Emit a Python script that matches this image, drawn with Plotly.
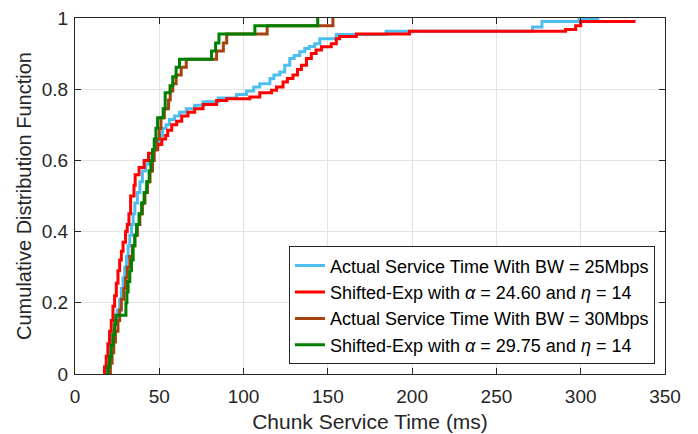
import plotly.graph_objects as go

# ---- data ----
blue_x = [18, 19, 20, 21, 22, 23.5, 25, 26.5, 27.5, 28.5, 29.5, 30.5, 31.5, 32.5, 33.5, 34.5,
          35.5, 37, 38.5, 40, 42, 44, 46, 48, 50, 52, 54, 56, 59, 62, 66, 71, 76, 85, 95.8,
          101.7, 106, 109.6, 115.6, 118, 121.5, 124.4, 127.4, 130, 133.3, 136.3, 139, 142.2,
          145.2, 155, 184.6, 271.4, 277, 299, 311]
blue_y = [0, 0.03, 0.06, 0.09, 0.12, 0.15, 0.18, 0.21, 0.24, 0.27, 0.30, 0.33, 0.36, 0.39, 0.42,
          0.45, 0.48, 0.51, 0.54, 0.57, 0.59, 0.61, 0.63, 0.65, 0.67, 0.69, 0.70, 0.715, 0.725,
          0.735, 0.745, 0.755, 0.765, 0.775, 0.785, 0.795, 0.806, 0.815, 0.83, 0.84, 0.848,
          0.867, 0.886, 0.895, 0.905, 0.914, 0.92, 0.928, 0.942, 0.954, 0.963, 0.975, 0.99,
          0.997, 0.997]

red_x = [17, 17.5, 18.5, 19.5, 20.5, 21.5, 22.5, 23.5, 24.5, 25.5, 26.5, 27.5, 28.5, 30, 31, 32,
         33, 35, 35.7, 38, 41, 43.6, 46.5, 49, 51.5, 53.8, 55, 57.4, 60.3, 63.3, 67, 71, 76, 84,
         90, 103.7, 109.6, 116.6, 119.5, 123.4, 126, 129.3, 132, 134.3, 137.3, 140.2, 143,
         146.2, 152, 155, 157, 166.9, 198.4, 291, 297, 300, 332.5]
red_y = [0, 0.02, 0.05, 0.085, 0.12, 0.15, 0.19, 0.22, 0.255, 0.29, 0.32, 0.345, 0.37, 0.40,
         0.42, 0.45, 0.50, 0.53, 0.56, 0.58, 0.60, 0.62, 0.63, 0.645, 0.66, 0.67, 0.685, 0.70,
         0.71, 0.725, 0.735, 0.745, 0.757, 0.768, 0.773, 0.778, 0.79, 0.797, 0.806, 0.82,
         0.83, 0.84, 0.855, 0.867, 0.886, 0.90, 0.91, 0.919, 0.928, 0.942, 0.948, 0.955,
         0.963, 0.968, 0.978, 0.99, 0.99]

brown_x = [20, 21, 22, 23, 24, 25.5, 26.5, 27.5, 29, 30, 31, 32.5, 34, 35.5, 37, 38.5, 40, 41.5,
           43, 44.5, 46, 47, 48.5, 50, 51, 53, 55.5, 56.5, 58, 60, 63, 66, 84, 88, 90, 114, 153]
brown_y = [0, 0.03, 0.06, 0.09, 0.12, 0.15, 0.18, 0.21, 0.24, 0.27, 0.30, 0.33, 0.36, 0.39,
           0.42, 0.45, 0.48, 0.51, 0.54, 0.57, 0.60, 0.63, 0.66, 0.69, 0.72, 0.745, 0.77,
           0.795, 0.815, 0.84, 0.862, 0.884, 0.907, 0.93, 0.955, 0.978, 1.0]

green_x = [18.5, 19.5, 20.5, 21.5, 22.5, 23.5, 24.2, 30.2, 30.8, 31.5, 32.5, 33.5, 34.5, 35.5,
           36.5, 38, 39.5, 41, 42.5, 44, 45, 46, 47, 48, 49, 52.3, 53.5, 56.4, 58, 60, 62,
           81, 83.4, 85.4, 106.7, 144]
green_y = [0, 0.02, 0.05, 0.08, 0.11, 0.14, 0.165, 0.20, 0.23, 0.26, 0.29, 0.32, 0.36, 0.39,
           0.42, 0.45, 0.48, 0.51, 0.54, 0.57, 0.60, 0.63, 0.66, 0.69, 0.72, 0.745, 0.79,
           0.81, 0.835, 0.862, 0.884, 0.907, 0.93, 0.955, 0.978, 1.0]

names = [
    "Actual Service Time With BW = 25Mbps",
    "Shifted-Exp with <i>α</i> = 24.60 and <i>η</i> = 14",
    "Actual Service Time With BW = 30Mbps",
    "Shifted-Exp with <i>α</i> = 29.75 and <i>η</i> = 14",
]
colors = ["#4DBEEE", "#FF0000", "#A5420F", "#008000"]

x_ticks = [0, 50, 100, 150, 200, 250, 300, 350]
y_ticks = [0, 0.2, 0.4, 0.6, 0.8, 1]
y_tick_labels = ["0", "0.2", "0.4", "0.6", "0.8", "1"]

FONT = "Liberation Sans, Arial, sans-serif"

fig = go.Figure()
for xs, ys, nm, c in zip([blue_x, red_x, brown_x, green_x],
                         [blue_y, red_y, brown_y, green_y], names, colors):
    fig.add_trace(go.Scatter(x=xs, y=ys, mode="lines", name=nm,
                             line=dict(color=c, width=3, shape="hv")))

axis_common = dict(
    showline=True, mirror="ticks", linecolor="#262626", linewidth=1,
    ticks="inside", ticklen=6, tickcolor="#262626",
    showgrid=True, gridcolor="#E3E3E3", gridwidth=1, zeroline=False,
    tickfont=dict(family=FONT, size=19, color="#262626"),
    automargin=False,
)

fig.update_layout(
    width=698, height=434,
    margin=dict(l=75, r=33, t=18, b=60),
    paper_bgcolor="white", plot_bgcolor="white",
    font=dict(family=FONT, color="#262626"),
    xaxis=dict(range=[0, 350], tickvals=x_ticks, ticklabelstandoff=5,
               title=dict(text="Chunk Service Time (ms)", font=dict(size=21, family=FONT),
                          standoff=8),
               **axis_common),
    yaxis=dict(range=[0, 1], tickvals=y_ticks, ticktext=y_tick_labels, ticklabelstandoff=2,
               title=dict(text="Cumulative Distribution Function", font=dict(size=20, family=FONT),
                          standoff=4),
               **axis_common),
    legend=dict(x=0.983, y=0.027, xanchor="right", yanchor="bottom",
                bgcolor="white", bordercolor="#262626", borderwidth=1,
                font=dict(family=FONT, size=18, color="black"),
                itemwidth=30, tracegroupgap=0),
    showlegend=True,
)

fig.write_html("out.html")
